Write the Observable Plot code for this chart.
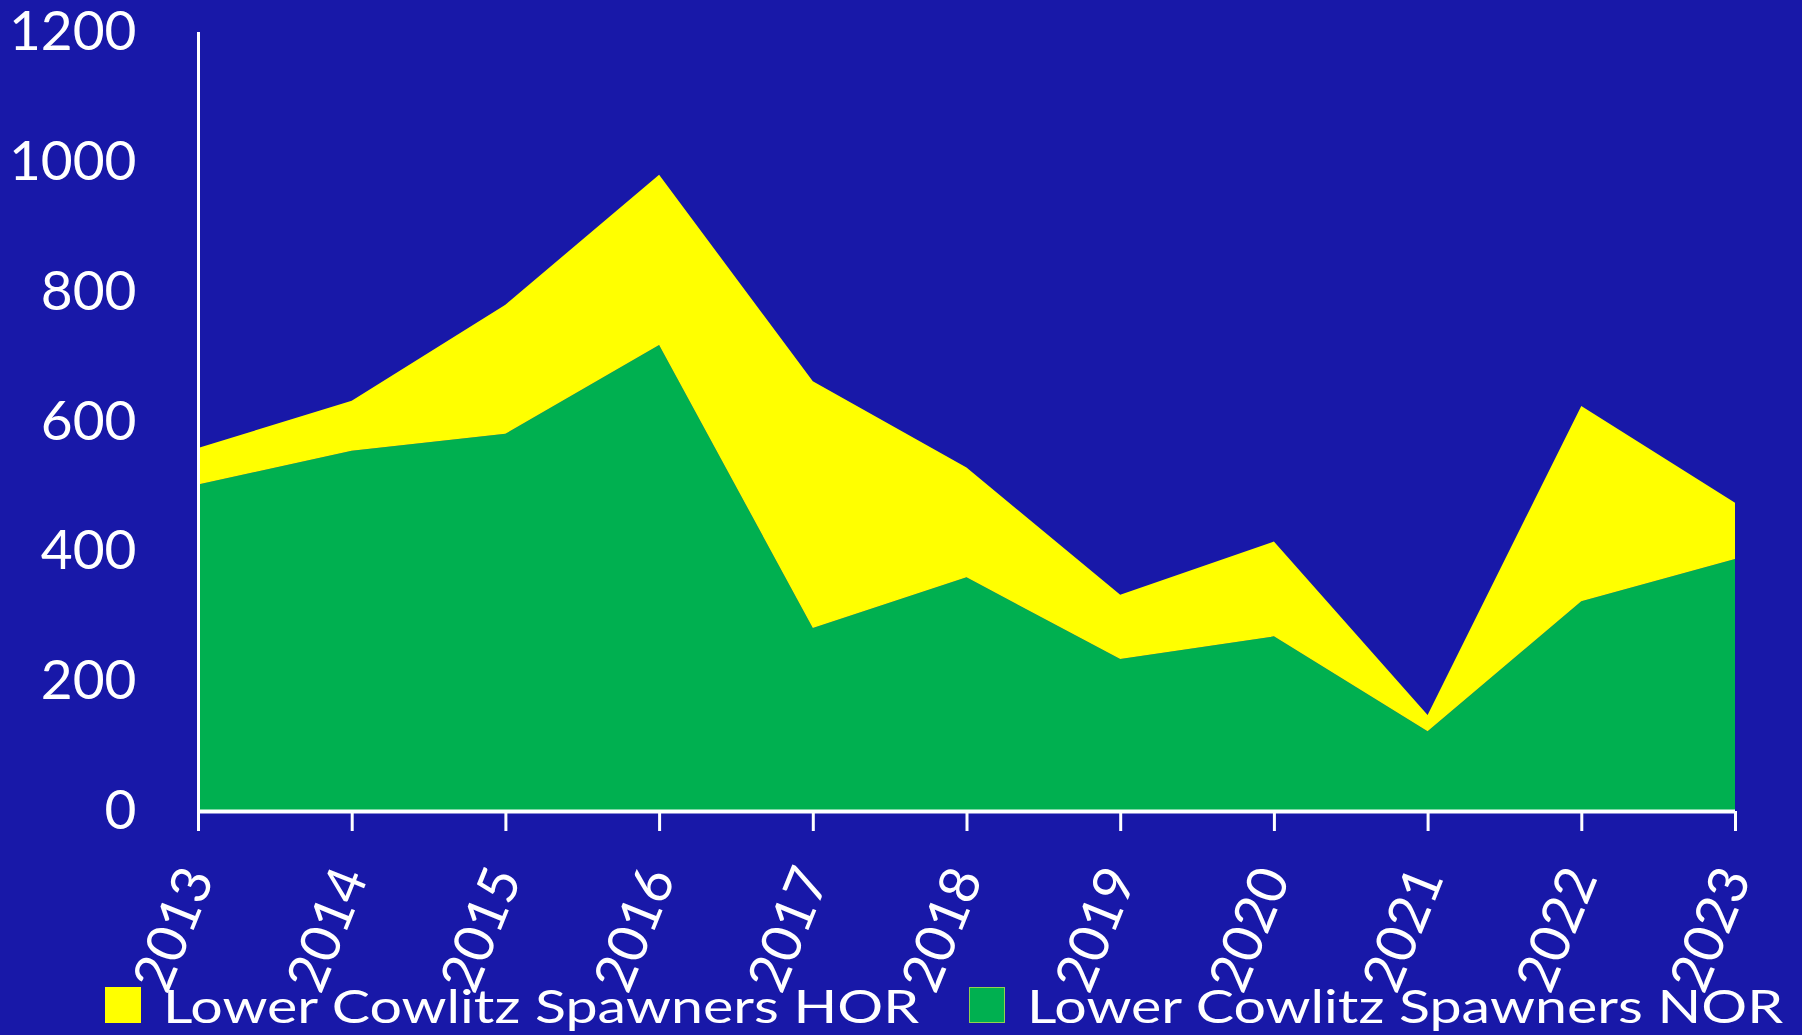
<!DOCTYPE html>
<html>
<head>
<meta charset="utf-8">
<script src="https://cdn.jsdelivr.net/npm/d3@7"></script>
<script src="https://cdn.jsdelivr.net/npm/@observablehq/plot@0.6"></script>
<style>
  html, body { margin: 0; padding: 0; background: #1818A8; }
  #wrap { position: relative; width: 1802px; height: 1035px; overflow: hidden; font-family: Lato, "Open Sans", sans-serif; }
  #chart svg { display: block; }
  .legend-item { position: absolute; top: 982px; display: flex; align-items: center; color: white; font-size: 47px; line-height: 46px; white-space: nowrap; }
  .legend-swatch { width: 36px; height: 36px; box-sizing: border-box; margin-right: 22px; flex: none; }
  .legend-label { display: inline-block; transform: scaleX(1.22); transform-origin: left center; }
</style>
</head>
<body>
<div id="wrap">
  <div id="chart"></div>
  <div id="legend"></div>
</div>
<script>
const years = [2013, 2014, 2015, 2016, 2017, 2018, 2019, 2020, 2021, 2022, 2023];
const norValues = [503, 555, 581, 718, 282, 360, 234, 269, 123, 323, 388];
const horValues = [56, 77, 199, 262, 380, 169, 99, 146, 25, 301, 87];
const seriesNames = ["Lower Cowlitz Spawners HOR", "Lower Cowlitz Spawners NOR"];
const seriesColors = ["#FFFF00", "#00B050"];
const yTicks = [0, 200, 400, 600, 800, 1000, 1200];

const [HOR, NOR] = seriesNames;
const data = [];
years.forEach((yr, i) => {
  data.push({year: yr, series: NOR, value: norValues[i]});
  data.push({year: yr, series: HOR, value: horValues[i]});
});

const chart = Plot.plot({
  width: 1802,
  height: 1035,
  marginTop: 32,
  marginLeft: 198,
  marginRight: 67,
  marginBottom: 224,
  style: {background: "#1818A8", color: "white", fontFamily: "Lato, 'Open Sans', sans-serif", fontSize: "55px", overflow: "visible"},
  x: {domain: [2013, 2023], label: null},
  y: {domain: [0, 1200], label: null},
  color: {domain: seriesNames, range: seriesColors},
  marks: [
    Plot.areaY(data, Plot.stackY({x: "year", y: "value", fill: "series", order: [NOR, HOR]})),
    Plot.ruleY([0], {stroke: "white", strokeWidth: 4}),
    Plot.ruleX([2013], {stroke: "white", strokeWidth: 3}),
    Plot.axisY({ticks: yTicks, tickSize: 0, tickPadding: 62, fontSize: 55, label: null, tickFormat: "d", fill: "white"}),
    Plot.axisX({ticks: years, tickSize: 20, tickPadding: 39, tickRotate: -68, label: null, tickFormat: "d", stroke: "white", strokeWidth: 3, fontSize: 55, fill: "white"})
  ]
});
document.getElementById("chart").appendChild(chart);

const legend = document.getElementById("legend");
const legendLefts = ["105px", "969px"];
seriesNames.forEach((name, i) => {
  const item = document.createElement("div");
  item.className = "legend-item";
  item.style.left = legendLefts[i];
  const sw = document.createElement("span");
  sw.className = "legend-swatch";
  sw.style.background = seriesColors[i];
  if (i === 1) sw.style.border = "1.5px solid #92D050";
  const label = document.createElement("span");
  label.className = "legend-label";
  label.textContent = name;
  item.appendChild(sw);
  item.appendChild(label);
  legend.appendChild(item);
});
</script>
</body>
</html>
